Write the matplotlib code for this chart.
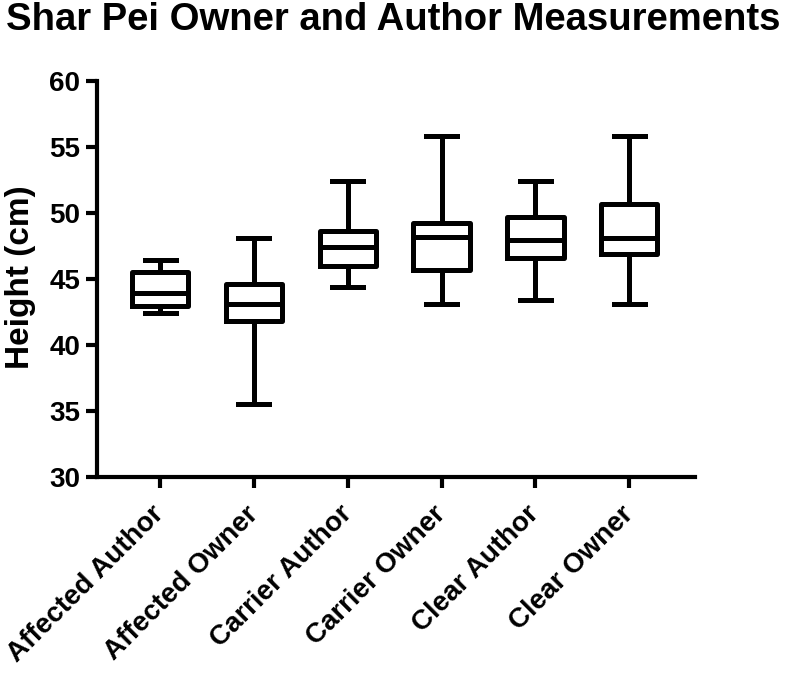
import matplotlib
matplotlib.use('Agg')
import matplotlib.pyplot as plt

plt.rcParams['font.family'] = ['Liberation Sans', 'DejaVu Sans']
plt.rcParams['font.weight'] = 'bold'

groups = ['Affected Author', 'Affected Owner', 'Carrier Author',
          'Carrier Owner', 'Clear Author', 'Clear Owner']
whis_lo = [42.4, 35.5, 44.4, 43.1, 43.4, 43.1]
q1 = [42.95, 41.8, 46.0, 45.7, 46.6, 46.9]
median = [43.9, 43.1, 47.4, 48.15, 47.9, 48.1]
q3 = [45.5, 44.6, 48.65, 49.2, 49.65, 50.65]
whis_hi = [46.4, 48.1, 52.4, 55.8, 52.4, 55.8]
y_ticks = [30, 35, 40, 45, 50, 55, 60]

stats = []
for i, name in enumerate(groups):
    stats.append(dict(label=name, whislo=whis_lo[i], q1=q1[i], med=median[i],
                      q3=q3[i], whishi=whis_hi[i], fliers=[]))

fig = plt.figure(figsize=(7.87, 6.77), dpi=100)
ax = fig.add_axes([0.123, 0.2954, 0.76, 0.5856])

lw = 3.6
ax.bxp(stats, positions=range(1, 7), widths=0.6, showfliers=False,
       boxprops=dict(color='black', linewidth=lw),
       medianprops=dict(color='black', linewidth=lw),
       whiskerprops=dict(color='black', linewidth=lw),
       capprops=dict(color='black', linewidth=lw),
       capwidths=0.33)

ax.set_xlim(0.325, 6.70)
ax.set_ylim(30, 60)
ax.set_yticks(y_ticks)
ax.set_yticklabels([str(t) for t in y_ticks], fontsize=20, fontweight='bold')
ax.set_xticks(range(1, 7))
ax.set_xticklabels(groups, fontsize=20, fontweight='bold', rotation=45,
                   ha='right', va='center', rotation_mode='anchor')

for side in ['top', 'right']:
    ax.spines[side].set_visible(False)
for side in ['left', 'bottom']:
    ax.spines[side].set_linewidth(3)
ax.tick_params(axis='both', direction='out', length=8, width=3, pad=4)
ax.tick_params(axis='x', pad=16)

ax.set_ylabel('Height (cm)', fontsize=24, fontweight='bold')
ax.yaxis.set_label_coords(-0.1015, 0.504)
fig.text(0.5, 0.997, 'Shar Pei Owner and Author Measurements',
         ha='center', va='top', fontsize=27.5, fontweight='bold')

fig.savefig('out.png', dpi=100)
